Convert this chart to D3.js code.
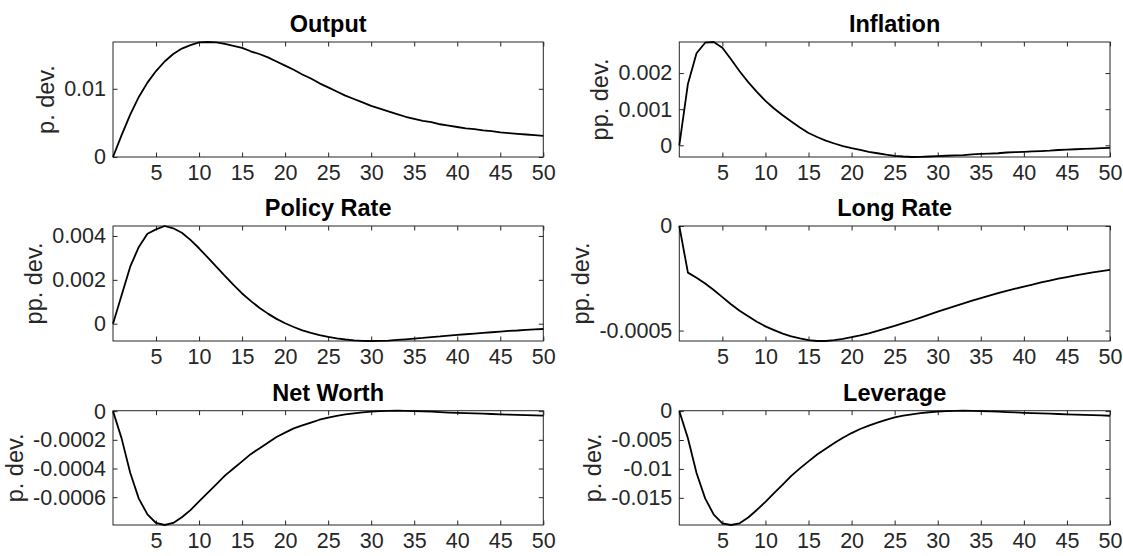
<!DOCTYPE html>
<html>
<head>
<meta charset="utf-8">
<script src="https://cdn.jsdelivr.net/npm/d3@7"></script>
<style>
  html, body { margin: 0; padding: 0; background: #fff; }
  svg { display: block; font-family: "Liberation Sans", Arial, Helvetica, sans-serif; }
</style>
</head>
<body>
<svg id="chart" width="1123" height="556"></svg>
<script>
/************** Data **************/
const periods = d3.range(0, 51);   // 0..50
const xTicks = [5, 10, 15, 20, 25, 30, 35, 40, 45, 50];

const output = [0, 0.0032, 0.0062, 0.0088, 0.0109, 0.0126, 0.0140, 0.0151, 0.0159, 0.0164,
  0.0168, 0.01686, 0.0168, 0.0166, 0.0163, 0.0160, 0.0155, 0.0151, 0.0146, 0.0140,
  0.0134, 0.0128, 0.0121, 0.0115, 0.0108, 0.0102, 0.0096, 0.0090, 0.0085, 0.0080,
  0.0075, 0.0071, 0.0067, 0.0063, 0.0059, 0.0056, 0.0053, 0.0051, 0.0048, 0.0046,
  0.0044, 0.0042, 0.0041, 0.0039, 0.0038, 0.0036, 0.0035, 0.0034, 0.0033, 0.0032, 0.0031];

const inflation = [0, 0.0017, 0.00255, 0.00284, 0.00286, 0.0027, 0.00238, 0.00205, 0.00175, 0.00148,
  0.00123, 0.00102, 0.00083, 0.00066, 0.00049, 0.00034, 0.00023, 0.00013, 0.00005, -0.00002,
  -0.00008, -0.00013, -0.00018, -0.00022, -0.00026, -0.00029, -0.00031, -0.000324, -0.00032, -0.00031,
  -0.0003, -0.00029, -0.00028, -0.00027, -0.00025, -0.00024, -0.00023, -0.00022, -0.0002, -0.00019,
  -0.00018, -0.00017, -0.00016, -0.00015, -0.00013, -0.00012, -0.00011, -0.0001, -0.00009, -0.00008, -0.00007];

const policyRate = [0, 0.0013, 0.0026, 0.0035, 0.0041, 0.0043, 0.004455, 0.00435, 0.00415, 0.00382,
  0.00344, 0.00302, 0.0026, 0.00218, 0.00177, 0.00138, 0.00104, 0.00073, 0.00046, 0.00022,
  0.00002, -0.00015, -0.0003, -0.00042, -0.00052, -0.0006, -0.00067, -0.00072, -0.00076, -0.00078,
  -0.000788, -0.00078, -0.00077, -0.00074, -0.00071, -0.00068, -0.00065, -0.00061, -0.00058, -0.00054,
  -0.00051, -0.00048, -0.00045, -0.00042, -0.00039, -0.00036, -0.00033, -0.00031, -0.00028, -0.00026, -0.00024];

const longRate = [0, -0.000223, -0.000248, -0.000275, -0.000306, -0.00034, -0.000374, -0.000405, -0.000432, -0.000458,
  -0.00048, -0.000498, -0.000515, -0.000528, -0.000538, -0.000546, -0.00055, -0.00055, -0.000546, -0.00054,
  -0.000532, -0.000523, -0.000513, -0.000502, -0.00049, -0.000478, -0.000465, -0.000452, -0.000438, -0.000424,
  -0.00041, -0.000396, -0.000383, -0.00037, -0.000357, -0.000345, -0.000333, -0.000321, -0.00031, -0.0003,
  -0.00029, -0.00028, -0.00027, -0.000261, -0.000252, -0.000244, -0.000236, -0.000229, -0.000222, -0.000216, -0.00021];

const netWorth = [0, -0.00019, -0.00043, -0.00061, -0.00072, -0.00078, -0.000794, -0.00078, -0.00074, -0.00069,
  -0.00063, -0.00057, -0.00051, -0.00045, -0.0004, -0.00035, -0.0003, -0.00026, -0.00022, -0.00018,
  -0.00015, -0.00012, -0.0001, -0.00008, -0.00006, -0.000045, -0.000033, -0.000023, -0.000015, -0.000009,
  -0.000004, 0, 0.000002, 0.000003, 0.000002, 0, -0.000002, -0.000004, -0.000007, -0.00001,
  -0.000012, -0.000014, -0.000016, -0.000018, -0.00002, -0.000022, -0.000024, -0.000026, -0.000028, -0.00003, -0.000032];

const leverage = [0, -0.0047, -0.0107, -0.0151, -0.0179, -0.0194, -0.0197, -0.0194, -0.0184, -0.0171,
  -0.0157, -0.0142, -0.0127, -0.0112, -0.0099, -0.0087, -0.0075, -0.0065, -0.0055, -0.0046,
  -0.0038, -0.0031, -0.0025, -0.002, -0.0015, -0.0011, -0.0008, -0.00055, -0.00035, -0.0002,
  -0.0001, 0, 0.00005, 0.00007, 0.00005, 0, -0.00005, -0.0001, -0.00017, -0.00023,
  -0.0003, -0.00035, -0.0004, -0.00045, -0.0005, -0.00055, -0.0006, -0.00065, -0.0007, -0.00075, -0.0008];

const titles  = ["Output", "Inflation", "Policy Rate", "Long Rate", "Net Worth", "Leverage"];
const yLabels = ["p. dev.", "pp. dev.", "pp. dev.", "pp. dev.", "p. dev.", "p. dev."];
const series  = [output, inflation, policyRate, longRate, netWorth, leverage];
const yTicks  = [
  [0, 0.01],
  [0, 0.001, 0.002],
  [0, 0.002, 0.004],
  [-0.0005, 0],
  [-0.0006, -0.0004, -0.0002, 0],
  [-0.015, -0.01, -0.005, 0]
];

/************** Layout **************/
const cols = [[113, 543.3], [679.3, 1110]];
const rows = [[42, 157], [226, 341], [410.7, 525]];
const axisColor = "#262626";
const tickLen = 4.5;
const tickFont = 21.5, titleFont = 23.5, labelFont = 23.5;

const svg = d3.select("#chart");
svg.append("rect").attr("width", 1123).attr("height", 556).attr("fill", "#fff");

series.forEach((vals, i) => {
  const [x0, x1] = cols[i % 2];
  const [y0, y1] = rows[Math.floor(i / 2)];
  const w = x1 - x0, h = y1 - y0;

  const x = d3.scaleLinear().domain([0, 50]).range([0, w]);
  const y = d3.scaleLinear().domain(d3.extent(vals)).range([h, 0]);

  const g = svg.append("g").attr("transform", `translate(${x0},${y0})`);

  // bottom axis with labels, ticks pointing inside
  const gx = g.append("g").attr("transform", `translate(0,${h})`)
    .call(d3.axisBottom(x).tickValues(xTicks).tickSize(-tickLen).tickPadding(8).tickFormat(d => d));
  // top mirror ticks
  const gxt = g.append("g")
    .call(d3.axisTop(x).tickValues(xTicks).tickSize(-tickLen).tickFormat(""));
  // left axis with labels
  const gy = g.append("g")
    .call(d3.axisLeft(y).tickValues(yTicks[i]).tickSize(-tickLen).tickPadding(7).tickFormat(d => String(d)));
  // right mirror ticks
  const gyr = g.append("g").attr("transform", `translate(${w},0)`)
    .call(d3.axisRight(y).tickValues(yTicks[i]).tickSize(-tickLen).tickFormat(""));

  [gx, gxt, gy, gyr].forEach(a => {
    a.select(".domain").remove();
    a.selectAll(".tick line").attr("stroke", axisColor).attr("stroke-width", 1);
    a.selectAll(".tick text")
      .attr("fill", axisColor)
      .style("font-family", '"Liberation Sans", Arial, sans-serif')
      .style("font-size", tickFont + "px");
  });

  // box
  g.append("rect")
    .attr("width", w).attr("height", h)
    .attr("fill", "none").attr("stroke", axisColor).attr("stroke-width", 1);

  // response line
  g.append("path")
    .datum(vals)
    .attr("fill", "none")
    .attr("stroke", "#000")
    .attr("stroke-width", 1.8)
    .attr("stroke-linejoin", "round")
    .attr("d", d3.line().x((d, k) => x(periods[k])).y(d => y(d)));

  // title
  g.append("text")
    .attr("x", w / 2).attr("y", -10)
    .attr("text-anchor", "middle")
    .attr("font-weight", "bold")
    .attr("font-size", titleFont)
    .attr("fill", "#000")
    .text(titles[i]);

  // y label placed left of the widest tick label
  let maxW = 0;
  gy.selectAll(".tick text").each(function () { maxW = Math.max(maxW, this.getComputedTextLength()); });
  const lx = -7 - maxW - 10;
  g.append("text")
    .attr("transform", `translate(${lx},${h / 2}) rotate(-90)`)
    .attr("text-anchor", "middle")
    .attr("font-size", labelFont)
    .attr("fill", axisColor)
    .text(yLabels[i]);
});
</script>
</body>
</html>
